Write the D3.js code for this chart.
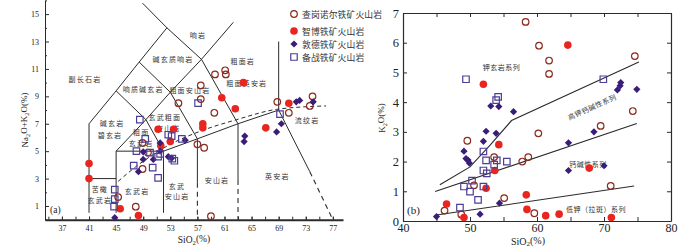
<!DOCTYPE html>
<html lang="zh">
<head>
<meta charset="utf-8">
<title>TAS 与 K2O-SiO2 图解</title>
<script src="https://cdn.jsdelivr.net/npm/d3@7"></script>
<style>
	body { margin: 0; background: #fff; }
	svg { display: block; }
	.num { font-family: 'Liberation Serif', 'Times New Roman', serif; fill: #222; }
	.cjk { font-family: 'Noto Sans CJK SC', sans-serif; fill: #333; }
</style>
</head>
<body>
<svg id="chart" width="700" height="248"></svg>
<script>
/* global d3 */

/**
 * Series names (legend order)
 */
const seriesNames = [ '查岗诺尔铁矿火山岩', '智博铁矿火山岩', '敦德铁矿火山岩', '备战铁矿火山岩' ];
const seriesKeys = [ 'chagang', 'zhibo', 'dunde', 'beizhan' ];

/**
 * Panel (a) TAS: [SiO2, Na2O+K2O]
 */
const tasChagang = [
	[ 59.6, 10.6 ], [ 61.1, 10.9 ], [ 61.2, 10.6 ], [ 57.5, 9.8 ], [ 57.5, 8.8 ], [ 59.5, 7.8 ],
	[ 68.8, 8.6 ], [ 74.0, 9.0 ], [ 73.6, 8.3 ], [ 70.5, 7.8 ], [ 57.0, 5.5 ], [ 58.0, 5.25 ],
	[ 59.0, 0.25 ], [ 54.2, 8.5 ], [ 48.9, 5.6 ], [ 49.7, 4.9 ], [ 48.9, 3.7 ], [ 45.3, 1.65 ],
	[ 47.9, 0.95 ],
];
const tasZhibo = [
	[ 63.8, 10.0 ], [ 60.6, 8.9 ], [ 62.6, 8.1 ], [ 70.5, 8.5 ], [ 67.1, 6.7 ], [ 57.8, 7.0 ],
	[ 57.8, 6.7 ], [ 51.2, 6.6 ], [ 53.5, 6.6 ], [ 53.0, 5.7 ], [ 51.6, 5.4 ], [ 41.0, 4.1 ],
	[ 41.0, 3.0 ], [ 45.6, 0.8 ], [ 48.3, 0.3 ],
];
const tasDunde = [
	[ 71.6, 8.6 ], [ 72.1, 8.7 ], [ 74.1, 8.6 ], [ 69.4, 7.0 ], [ 68.7, 6.4 ], [ 64.0, 6.1 ],
	[ 63.9, 5.7 ], [ 55.2, 5.8 ], [ 51.5, 5.0 ], [ 49.0, 4.4 ], [ 49.0, 4.95 ], [ 50.5, 4.4 ],
	[ 52.7, 4.6 ], [ 53.2, 4.5 ], [ 48.3, 3.5 ], [ 44.8, 0.15 ], [ 51.5, 5.6 ],
];
const tasBeizhan = [
	[ 57.1, 8.5 ], [ 69.2, 7.7 ], [ 48.5, 7.3 ], [ 49.3, 5.9 ], [ 52.7, 6.2 ], [ 53.2, 6.1 ],
	[ 54.7, 5.9 ], [ 48.0, 5.0 ], [ 50.0, 4.9 ], [ 51.5, 4.8 ], [ 51.2, 4.6 ], [ 47.6, 3.95 ],
	[ 50.4, 3.8 ], [ 51.2, 3.05 ], [ 53.3, 4.45 ], [ 53.6, 4.3 ], [ 44.8, 2.2 ], [ 44.8, 1.5 ],
	[ 44.7, 0.95 ],
];

/**
 * Panel (b) K2O-SiO2: [SiO2, K2O]
 */
const kChagang = [
	[ 58.3, 6.7 ], [ 60.3, 5.9 ], [ 61.8, 5.4 ], [ 61.8, 4.95 ], [ 74.6, 5.55 ], [ 74.3, 3.7 ],
	[ 69.5, 3.2 ], [ 71.0, 1.18 ], [ 60.2, 2.95 ], [ 49.6, 2.7 ], [ 53.6, 2.15 ], [ 57.8, 2.0 ],
	[ 58.7, 2.15 ], [ 50.6, 1.2 ], [ 55.1, 0.77 ], [ 46.2, 0.35 ], [ 48.7, 0.22 ], [ 59.6, 0.26 ],
];
const kZhibo = [
	[ 52.0, 4.6 ], [ 64.6, 5.92 ], [ 67.8, 1.78 ], [ 61.3, 0.18 ], [ 63.3, 0.23 ], [ 71.1, 0.12 ],
	[ 54.3, 2.57 ], [ 53.7, 1.7 ], [ 52.4, 1.1 ], [ 46.5, 0.57 ], [ 49.1, 0.12 ], [ 58.4, 0.88 ],
	[ 58.5, 0.39 ],
];
const kDunde = [
	[ 53.1, 3.87 ], [ 54.3, 3.85 ], [ 56.5, 3.68 ], [ 72.5, 4.66 ], [ 72.4, 4.55 ], [ 72.0, 4.41 ],
	[ 74.9, 4.43 ], [ 68.5, 3.0 ], [ 64.7, 2.63 ], [ 64.7, 1.7 ], [ 70.0, 1.86 ], [ 45.0, 0.15 ],
	[ 49.1, 2.35 ], [ 49.7, 2.05 ], [ 49.4, 2.1 ], [ 49.9, 1.95 ], [ 52.0, 2.68 ], [ 52.4, 3.02 ],
	[ 53.9, 2.95 ], [ 51.5, 0.23 ], [ 54.4, 0.6 ],
];
const kBeizhan = [
	[ 49.4, 4.77 ], [ 54.2, 4.18 ], [ 53.9, 4.07 ], [ 69.9, 4.77 ], [ 52.0, 2.34 ], [ 52.4, 2.04 ],
	[ 54.0, 2.04 ], [ 55.5, 2.0 ], [ 52.0, 1.7 ], [ 52.5, 1.6 ], [ 53.6, 1.9 ], [ 50.3, 1.36 ],
	[ 49.1, 1.16 ], [ 50.0, 0.99 ], [ 52.0, 1.16 ], [ 51.2, 0.71 ], [ 48.5, 0.45 ],
];

/**
 * Tick labels
 */
const tasXTicks = [ 37, 41, 45, 49, 53, 57, 61, 65, 69, 73, 77 ];
const tasYTicks = [ 1, 3, 5, 7, 9, 11, 13, 15 ];
const kXTicks = [ 40, 50, 60, 70, 80 ];
const kYTicks = [ 0, 1, 2, 3, 4, 5, 6, 7 ];

/**
 * TAS field boundaries (Le Bas et al., 1986), data units
 */
const tasSolid = [
	[ [ 41, 0.5 ], [ 41, 7 ], [ 45, 9.4 ], [ 48.4, 11.5 ], [ 52.5, 14 ], [ 48.9, 15.8 ] ],
	[ [ 52.5, 14 ], [ 57.6, 11.7 ], [ 63, 7 ], [ 63, 2.9 ] ],
	[ [ 57.6, 11.7 ], [ 62.3, 14.4 ] ],
	[ [ 41, 3 ], [ 45, 3 ] ],
	[ [ 45, 0.5 ], [ 45, 5 ], [ 52, 5 ], [ 57, 5.9 ], [ 63, 7 ], [ 69, 8 ], [ 73.6, 3.5 ] ],
	[ [ 52, 0.5 ], [ 52, 5 ] ],
	[ [ 45, 9.4 ], [ 49.4, 7.3 ], [ 45, 5 ] ],
	[ [ 48.4, 11.5 ], [ 53, 9.3 ], [ 49.4, 7.3 ], [ 52, 5 ] ],
	[ [ 53, 9.3 ], [ 57.6, 11.7 ] ],
	[ [ 53, 9.3 ], [ 57, 5.9 ], [ 57, 2.7 ] ],
	[ [ 69, 8 ], [ 69, 13 ] ],
];
const tasDashed = [
	[ [ 57, 2.7 ], [ 57, 0 ] ],
	[ [ 63, 2.9 ], [ 63, 0 ] ],
	[ [ 73.6, 3.5 ], [ 77, 0 ] ],
];
// alkaline / subalkaline divide
const tasDivide = [
	[ 45.3, 2.8 ], [ 48, 3.9 ], [ 50, 4.6 ], [ 53, 5.5 ], [ 57.4, 6.45 ], [ 62.8, 7.3 ],
	[ 68.7, 8.05 ], [ 76, 8.3 ],
];

// field names: [ text, SiO2, Na2O+K2O ]
const tasFields = [
	[ '响岩', 57.1, 13.5 ], [ '碱玄质响岩', 53.4, 11.7 ], [ '副长石岩', 40.4, 10.3 ],
	[ '响质碱玄岩', 49.0, 9.55 ], [ '粗面安山岩', 55.9, 9.45 ], [ '粗面岩', 63.7, 11.6 ],
	[ '粗面英安岩', 64.3, 9.95 ], [ '碱玄岩', 44.4, 7.05 ], [ '碧玄岩', 44.1, 6.15 ],
	[ '玄武粗面', 52.2, 7.5 ], [ '安山岩', 52.7, 6.7 ], [ '粗面', 48.7, 6.4 ],
	[ '玄武岩', 48.7, 5.6 ], [ '苦橄', 42.6, 2.25 ], [ '玄武岩', 42.6, 1.45 ],
	[ '玄武岩', 48.1, 2.1 ], [ '玄武', 54.0, 2.45 ], [ '安山岩', 54.0, 1.75 ],
	[ '安山岩', 59.9, 2.9 ], [ '英安岩', 68.8, 3.2 ], [ '流纹岩', 73.2, 7.27 ],
];

/**
 * K2O series boundaries (Peccerillo & Taylor, 1976)
 */
const kLines = [
	[ [ 45, 0.2 ], [ 74.5, 1.18 ] ],
	[ [ 44.8, 0.99 ], [ 74.9, 3.28 ] ],
	[ [ 45.5, 1.22 ], [ 50, 1.82 ], [ 53, 2.55 ], [ 56.2, 3.38 ], [ 75.2, 5.35 ] ],
];
// series names: [ text, SiO2, K2O, angle ]
const kFields = [
	[ '钾玄岩系列', 54.7, 5.19, 0 ],
	[ '高钾钙碱性系列', 68.2, 3.84, -24 ],
	[ '钙碱性系列', 67.6, 1.92, 0 ],
	[ '低钾（拉斑）系列', 68.8, 0.4, 0 ],
];

const COLORS = {
	chagang: '#8c2b1f',
	zhibo: '#e8261f',
	dunde: '#3a1d78',
	beizhan: '#4e3d94',
};
const INK = '#2b2b2b';

const svg = d3.select( '#chart' );

const xA = d3.scaleLinear().domain( [ 34.5, 78.5 ] ).range( [ 45, 343 ] );
const yA = d3.scaleLinear().domain( [ 0, 16 ] ).range( [ 219.7, 0.4 ] );
const xB = d3.scaleLinear().domain( [ 40, 80 ] ).range( [ 403, 671 ] );
const yB = d3.scaleLinear().domain( [ 0, 7 ] ).range( [ 221, 13 ] );

/**
 * Marker path + style per series
 *
 * @param {Selection} sel - path selection
 * @param {string}    key - series key
 */
function styleMarker( sel, key ) {
	if ( key === 'chagang' ) {
		sel.attr( 'd', d3.symbol( d3.symbolCircle, Math.PI * 3.3 * 3.3 )() )
			.attr( 'fill', 'none' ).attr( 'stroke', COLORS.chagang ).attr( 'stroke-width', 1.2 );
	} else if ( key === 'zhibo' ) {
		sel.attr( 'd', d3.symbol( d3.symbolCircle, Math.PI * 3.8 * 3.8 )() )
			.attr( 'fill', COLORS.zhibo );
	} else if ( key === 'dunde' ) {
		sel.attr( 'd', d3.symbol( d3.symbolSquare, 26 )() )
			.attr( 'fill', COLORS.dunde );
	} else {
		sel.attr( 'd', d3.symbol( d3.symbolSquare, 42 )() )
			.attr( 'fill', 'none' ).attr( 'stroke', COLORS.beizhan ).attr( 'stroke-width', 1.2 );
	}
}

function drawSeries( g, data, key, x, y ) {
	const rot = key === 'dunde' ? ' rotate(45)' : '';
	g.append( 'g' )
		.selectAll( 'path' )
		.data( data )
		.enter()
		.append( 'path' )
		.attr( 'transform', ( d ) => `translate(${ x( d[ 0 ] ) },${ y( d[ 1 ] ) })${ rot }` )
		.call( styleMarker, key );
}

/**
 * Text with subscripts, e.g. [ 'Na', '2', 'O' ]
 */
function subText( sel, parts ) {
	parts.forEach( ( p, i ) => {
		const sub = i % 2 === 1;
		sel.append( 'tspan' )
			.attr( 'font-size', sub ? '0.7em' : null )
			.attr( 'dy', sub ? '0.25em' : ( i > 0 ? '-0.25em' : null ) )
			.text( p );
	} );
}

function styleAxis( g, size ) {
	g.selectAll( 'text' ).attr( 'class', 'num' ).attr( 'font-size', size ).attr( 'fill', '#222' );
	g.selectAll( 'line' ).attr( 'stroke', INK );
	g.select( '.domain' ).attr( 'stroke', INK );
}

const fmtInt = d3.format( 'd' );

/* ---------------- panel (a) ---------------- */
const gA = svg.append( 'g' );
const line = d3.line().x( ( d ) => xA( d[ 0 ] ) ).y( ( d ) => yA( d[ 1 ] ) );

gA.append( 'g' ).selectAll( 'path' ).data( tasSolid ).enter().append( 'path' )
	.attr( 'd', line ).attr( 'fill', 'none' ).attr( 'stroke', INK ).attr( 'stroke-width', 1 );
gA.append( 'g' ).selectAll( 'path' ).data( tasDashed ).enter().append( 'path' )
	.attr( 'd', line ).attr( 'fill', 'none' ).attr( 'stroke', INK ).attr( 'stroke-width', 1.1 )
	.attr( 'stroke-dasharray', '5,4' );
gA.append( 'path' )
	.attr( 'd', line.curve( d3.curveMonotoneX )( tasDivide ) )
	.attr( 'fill', 'none' ).attr( 'stroke', INK ).attr( 'stroke-width', 1 ).attr( 'stroke-dasharray', '4,3' );

gA.append( 'g' ).selectAll( 'text' ).data( tasFields ).enter().append( 'text' )
	.attr( 'class', 'cjk' )
	.attr( 'x', ( d ) => xA( d[ 1 ] ) )
	.attr( 'y', ( d ) => yA( d[ 2 ] ) )
	.attr( 'text-anchor', 'middle' )
	.attr( 'dominant-baseline', 'central' )
	.attr( 'font-size', 7 )
	.attr( 'letter-spacing', 1.2 )
	.text( ( d ) => d[ 0 ] );

// axes
const axAy = gA.append( 'g' ).attr( 'transform', `translate(${ xA.range()[ 0 ] },0)` )
	.call( d3.axisLeft( yA ).tickValues( tasYTicks ).tickFormat( fmtInt ).tickSize( -4 ).tickSizeOuter( 0 ).tickPadding( 6 ) );
styleAxis( axAy, 8 );
gA.append( 'g' ).attr( 'transform', `translate(${ xA.range()[ 0 ] },0)` )
	.call( d3.axisLeft( yA ).tickValues( d3.range( 0, 17, 2 ) ).tickSize( -2 ).tickFormat( '' ) )
	.call( ( g ) => g.select( '.domain' ).remove() )
	.selectAll( 'line' ).attr( 'stroke', INK );

const axAx = gA.append( 'g' ).attr( 'transform', `translate(0,${ yA( 0 ) })` )
	.call( d3.axisBottom( xA ).tickValues( tasXTicks ).tickFormat( fmtInt ).tickSize( -3 ).tickSizeOuter( 0 ).tickPadding( 6 ) );
styleAxis( axAx, 8 );
axAx.select( '.domain' ).attr( 'stroke-width', 2 );
gA.append( 'g' ).attr( 'transform', `translate(0,${ yA( 0 ) })` )
	.call( d3.axisBottom( xA ).tickValues( d3.range( 35, 79, 2 ) ).tickSize( -3 ).tickFormat( '' ) )
	.call( ( g ) => g.select( '.domain' ).remove() )
	.selectAll( 'line' ).attr( 'stroke', INK );

gA.append( 'text' ).attr( 'class', 'num' ).attr( 'font-size', 9 )
	.attr( 'transform', 'translate(28,120) rotate(-90)' ).attr( 'text-anchor', 'middle' )
	.call( subText, [ 'Na', '2', 'O+K', '2', 'O(%)' ] );
gA.append( 'text' ).attr( 'class', 'num' ).attr( 'font-size', 9.5 )
	.attr( 'x', 194 ).attr( 'y', 243 ).attr( 'text-anchor', 'middle' )
	.call( subText, [ 'SiO', '2', '(%)' ] );
gA.append( 'text' ).attr( 'class', 'num' ).attr( 'font-size', 9.5 )
	.attr( 'x', 50 ).attr( 'y', 213 ).text( '(a)' );

drawSeries( gA, tasChagang, 'chagang', xA, yA );
drawSeries( gA, tasZhibo, 'zhibo', xA, yA );
drawSeries( gA, tasDunde, 'dunde', xA, yA );
drawSeries( gA, tasBeizhan, 'beizhan', xA, yA );

// legend
const legendY = [ 14, 31, 44, 57 ];
const legend = gA.append( 'g' ).attr( 'transform', 'translate(294,0)' );
seriesKeys.forEach( ( key, i ) => {
	legend.append( 'path' )
		.attr( 'transform', `translate(0,${ legendY[ i ] })${ key === 'dunde' ? ' rotate(45)' : '' }` )
		.call( styleMarker, key );
	legend.append( 'text' ).attr( 'class', 'cjk' )
		.attr( 'x', 8 ).attr( 'y', legendY[ i ] )
		.attr( 'dominant-baseline', 'central' )
		.attr( 'font-size', 8.8 ).attr( 'letter-spacing', 0.1 )
		.attr( 'fill', '#222' )
		.text( seriesNames[ i ] );
} );

/* ---------------- panel (b) ---------------- */
const gB = svg.append( 'g' );
const lineB = d3.line().x( ( d ) => xB( d[ 0 ] ) ).y( ( d ) => yB( d[ 1 ] ) );

gB.append( 'g' ).selectAll( 'path' ).data( kLines ).enter().append( 'path' )
	.attr( 'd', lineB ).attr( 'fill', 'none' ).attr( 'stroke', INK ).attr( 'stroke-width', 1.1 );

gB.append( 'g' ).selectAll( 'text' ).data( kFields ).enter().append( 'text' )
	.attr( 'class', 'cjk' )
	.attr( 'transform', ( d ) => `translate(${ xB( d[ 1 ] ) },${ yB( d[ 2 ] ) }) rotate(${ d[ 3 ] })` )
	.attr( 'text-anchor', 'middle' )
	.attr( 'dominant-baseline', 'central' )
	.attr( 'font-size', 7 )
	.attr( 'letter-spacing', 0.5 )
	.text( ( d ) => d[ 0 ] );

const bx = d3.range( 40, 81, 5 );
const fmtB = ( d ) => ( kXTicks.includes( d ) ? fmtInt( d ) : '' );
const axBx = gB.append( 'g' ).attr( 'transform', `translate(0,${ yB( 0 ) })` )
	.call( d3.axisBottom( xB ).tickValues( bx ).tickFormat( fmtB ).tickSize( -4 ).tickSizeOuter( 0 ).tickPadding( 2 ) );
styleAxis( axBx, 12 );
const axBt = gB.append( 'g' ).attr( 'transform', `translate(0,${ yB( 7 ) })` )
	.call( d3.axisTop( xB ).tickValues( bx ).tickFormat( '' ).tickSize( -4 ).tickSizeOuter( 0 ) );
styleAxis( axBt, 12 );
const axBy = gB.append( 'g' ).attr( 'transform', `translate(${ xB( 40 ) },0)` )
	.call( d3.axisLeft( yB ).tickValues( kYTicks ).tickFormat( fmtInt ).tickSize( -4 ).tickSizeOuter( 0 ).tickPadding( 4 ) );
styleAxis( axBy, 12.5 );
const axBr = gB.append( 'g' ).attr( 'transform', `translate(${ xB( 80 ) },0)` )
	.call( d3.axisRight( yB ).tickValues( kYTicks ).tickFormat( '' ).tickSize( -4 ).tickSizeOuter( 0 ) );
styleAxis( axBr, 12 );
gB.selectAll( '.domain' ).attr( 'stroke-width', 1.2 );

gB.append( 'text' ).attr( 'class', 'num' ).attr( 'font-size', 9 )
	.attr( 'transform', 'translate(385,118) rotate(-90)' ).attr( 'text-anchor', 'middle' )
	.call( subText, [ 'K', '2', 'O(%)' ] );
gB.append( 'text' ).attr( 'class', 'num' ).attr( 'font-size', 10 )
	.attr( 'x', 528 ).attr( 'y', 244.5 ).attr( 'text-anchor', 'middle' )
	.call( subText, [ 'SiO', '2', '(%)' ] );
gB.append( 'text' ).attr( 'class', 'num' ).attr( 'font-size', 11 )
	.attr( 'x', 407 ).attr( 'y', 214 ).text( '(b)' );

drawSeries( gB, kChagang, 'chagang', xB, yB );
drawSeries( gB, kZhibo, 'zhibo', xB, yB );
drawSeries( gB, kDunde, 'dunde', xB, yB );
drawSeries( gB, kBeizhan, 'beizhan', xB, yB );
</script>
</body>
</html>
